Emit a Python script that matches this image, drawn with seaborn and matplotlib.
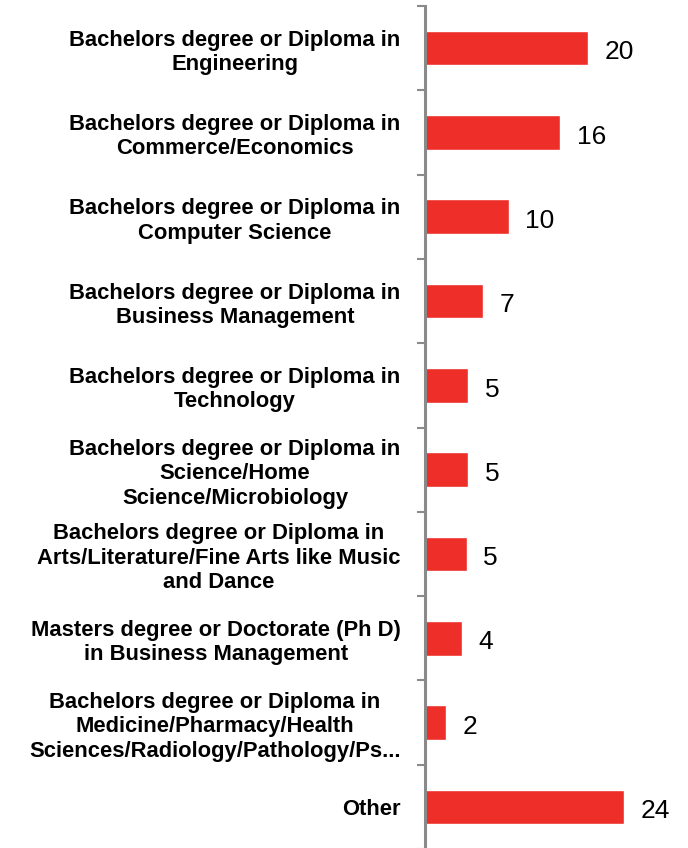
import numpy as np
import pandas as pd
import matplotlib
matplotlib.use("Agg")
import matplotlib.pyplot as plt
import seaborn as sns

# Category labels (line breaks as in the original chart)
categories = [
    "Bachelors degree or Diploma in\nEngineering",
    "Bachelors degree or Diploma in\nCommerce/Economics",
    "Bachelors degree or Diploma in\nComputer Science",
    "Bachelors degree or Diploma in\nBusiness Management",
    "Bachelors degree or Diploma in\nTechnology",
    "Bachelors degree or Diploma in\nScience/Home\nScience/Microbiology",
    "Bachelors degree or Diploma in\nArts/Literature/Fine Arts like Music\nand Dance",
    "Masters degree or Doctorate (Ph D)\nin Business Management",
    "Bachelors degree or Diploma in\nMedicine/Pharmacy/Health\nSciences/Radiology/Pathology/Ps...",
    "Other",
]
# bar lengths as measured, and the rounded labels printed next to them
values = [20.0, 16.6, 10.3, 7.1, 5.3, 5.3, 5.1, 4.5, 2.6, 24.4]
value_labels = ["20", "16", "10", "7", "5", "5", "5", "4", "2", "24"]

df = pd.DataFrame({"category": categories, "value": values})

sns.set_style("white")
plt.rcParams["font.family"] = ["Liberation Sans", "DejaVu Sans"]
plt.rcParams["text.color"] = "black"
plt.rcParams["ytick.color"] = "black"

fig = plt.figure(figsize=(6.88, 8.48), dpi=100)
ax = fig.add_axes([425 / 688, -1 / 848, 263 / 688, 843 / 848])

sns.barplot(data=df, x="value", y="category", orient="h", color="#EE2E29",
            width=0.41, saturation=1, ax=ax)

ax.set_xlim(0, 263 / 8.15)
ax.set_ylim(len(categories) - 0.5, -0.5)
ax.set_xlabel("")
ax.set_ylabel("")
ax.set_xticks([])

# ticks sit between categories, labels at category centres
ax.set_yticks(np.arange(len(categories)))
ax.set_yticklabels(categories, fontsize=15.8, fontweight="bold", color="black",
                   multialignment="center", linespacing=1.22)
ax.set_yticks(np.arange(len(categories) + 1) - 0.5, minor=True)
ax.tick_params(axis="y", which="major", length=0, pad=17.5)
ax.tick_params(axis="y", which="minor", length=6, width=1.5, color="#8a8a8a", left=True)

for s in ["top", "right", "bottom"]:
    ax.spines[s].set_visible(False)
ax.spines["left"].set_color("#8a8a8a")
ax.spines["left"].set_linewidth(2.2)

for i, v in enumerate(values):
    ax.text(v + 2.0, i + 0.05, value_labels[i], va="center", ha="left",
            fontsize=19, color="black")

fig.savefig("out.png", dpi=100)
